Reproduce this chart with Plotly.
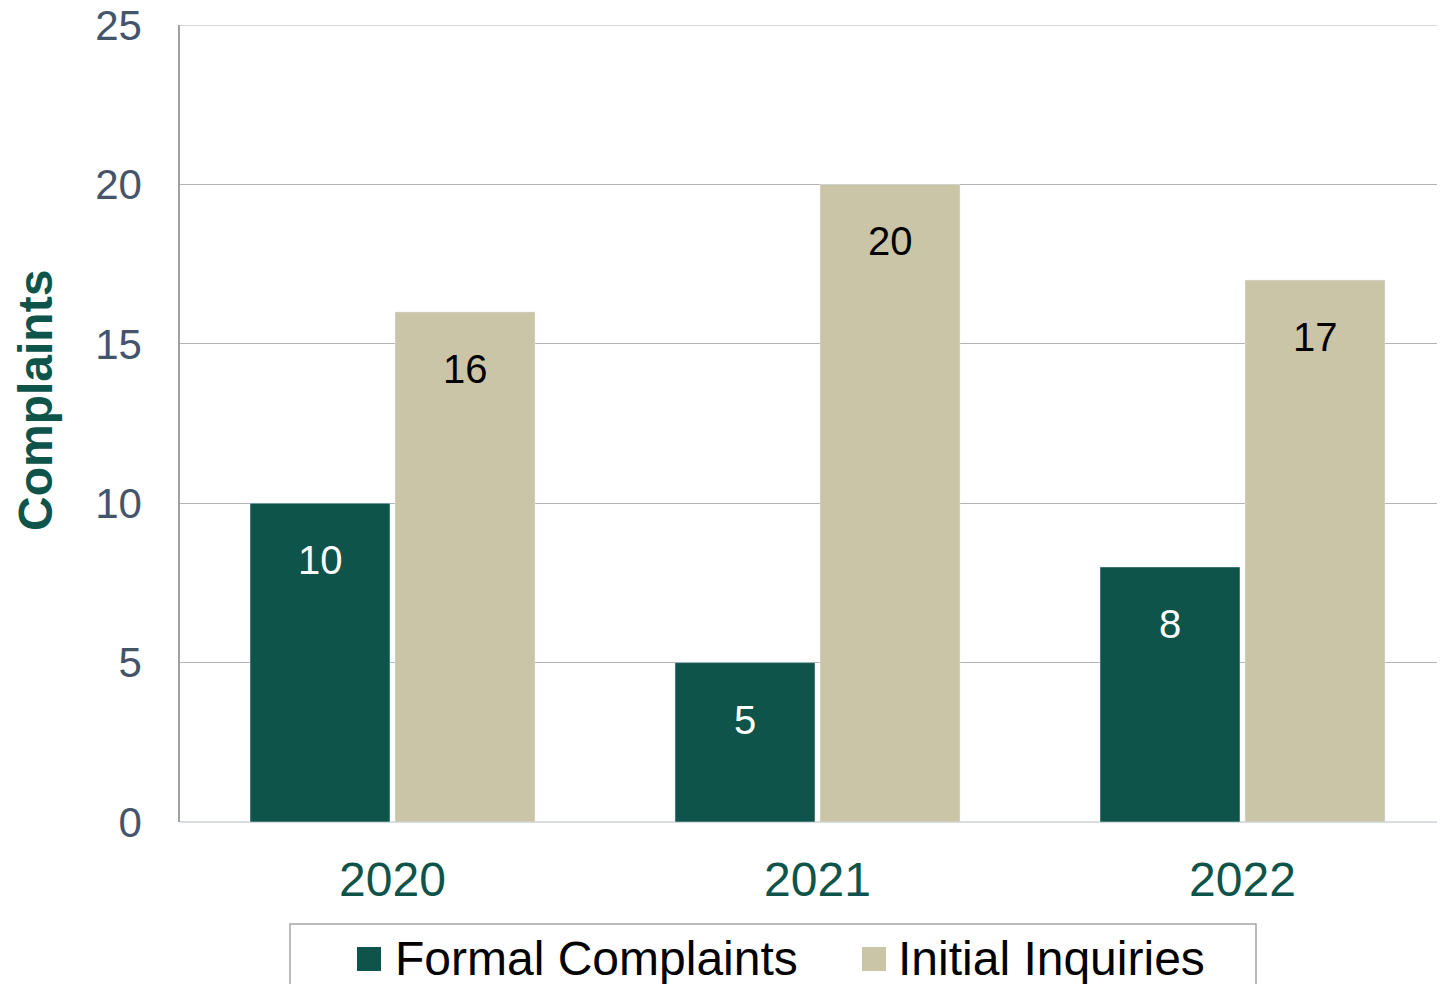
import plotly.graph_objects as go

# values
YEARS = ["2020", "2021", "2022"]
SERIES_NAMES = ["Formal Complaints", "Initial Inquiries"]
FORMAL = [10, 5, 8]
INQUIRIES = [16, 20, 17]
Y_TICKS = [0, 5, 10, 15, 20, 25]

GREEN = "#0f544a"
TAN = "#cac5a7"
FONT = "Arial, Liberation Sans, sans-serif"

# the page puts the figure 8px in from each edge, so keep it inside the window
OFF = 8
W, H = 1429, 976
L, R, T, B = 172, 0, 17, 162
PW, PH = W - L - R, H - T - B
CAT_PX = 425  # pixels per year group


def px_x(px):
    return (px - OFF - L) / PW


def px_y(py):
    return (H - B - (py - OFF)) / PH


# bar geometry in category units
BAR_W = 140 / CAT_PX
GAP = 5 / CAT_PX

fig = go.Figure()
fig.add_trace(go.Bar(
    x=YEARS, y=FORMAL, name=SERIES_NAMES[0], marker_color=GREEN,
    width=BAR_W, offset=-(BAR_W + GAP / 2), showlegend=False,
))
fig.add_trace(go.Bar(
    x=YEARS, y=INQUIRIES, name=SERIES_NAMES[1], marker_color=TAN,
    width=BAR_W, offset=GAP / 2, showlegend=False,
))

# value labels at the inside end of each bar
shift = (BAR_W + GAP) / 2
for vals, dx, col in [(FORMAL, -shift, "white"), (INQUIRIES, shift, "black")]:
    for i, v in enumerate(vals):
        fig.add_annotation(
            x=i + dx, y=v, xref="x", yref="y", text=str(v), showarrow=False,
            yshift=-57, font=dict(size=40, color=col, family=FONT),
        )

# top gridline (plotly drops the one sitting on the plot edge)
fig.add_shape(
    type="line", xref="paper", yref="y", x0=0, x1=1, y0=Y_TICKS[-1], y1=Y_TICKS[-1],
    line=dict(color="#b3b3b3", width=1.2), layer="below",
)

# y axis title
fig.add_annotation(
    x=px_x(35), y=px_y(401), xref="paper", yref="paper", text="<b>Complaints</b>",
    textangle=-90, showarrow=False, xanchor="center", yanchor="middle",
    font=dict(size=48, color=GREEN, family=FONT),
)

# legend drawn by hand so the swatches can match the reference size
fig.add_shape(
    type="rect", xref="paper", yref="paper",
    x0=px_x(290), x1=px_x(1256), y0=px_y(924), y1=px_y(1010),
    line=dict(color="#a6a6a6", width=1.5), fillcolor="rgba(0,0,0,0)",
)
for name, col, sq_x, txt_x in [(SERIES_NAMES[0], GREEN, 357, 393), (SERIES_NAMES[1], TAN, 862, 896)]:
    fig.add_shape(
        type="rect", xref="paper", yref="paper",
        x0=px_x(sq_x), x1=px_x(sq_x + 24), y0=px_y(971), y1=px_y(947),
        line=dict(width=0), fillcolor=col,
    )
    fig.add_annotation(
        x=px_x(txt_x), y=px_y(958), xref="paper", yref="paper", text=name,
        showarrow=False, xanchor="left", yanchor="middle",
        font=dict(size=48, color="black", family=FONT),
    )

fig.update_layout(
    width=W, height=H,
    margin=dict(l=L, r=R, t=T, b=B, pad=0, autoexpand=False),
    plot_bgcolor="white", paper_bgcolor="white",
    font=dict(family=FONT),
    showlegend=False,
    xaxis=dict(
        type="category", automargin=False,
        range=[-0.5, -0.5 + PW / CAT_PX],
        showgrid=False, showline=False, ticks="",
        tickfont=dict(size=48, color=GREEN),
        ticklabelstandoff=25,
    ),
    yaxis=dict(
        range=[0, 25], tickvals=Y_TICKS, automargin=False,
        showgrid=True, gridcolor="#b3b3b3", gridwidth=1.2,
        zeroline=True, zerolinecolor="#d9dce1", zerolinewidth=2,
        showline=True, linecolor="#a0a0a0", linewidth=1.5,
        ticks="", tickfont=dict(size=42, color="#44546a"),
        ticklabelstandoff=28, ticklabeloverflow="allow",
    ),
)

fig.write_html("out.html")
